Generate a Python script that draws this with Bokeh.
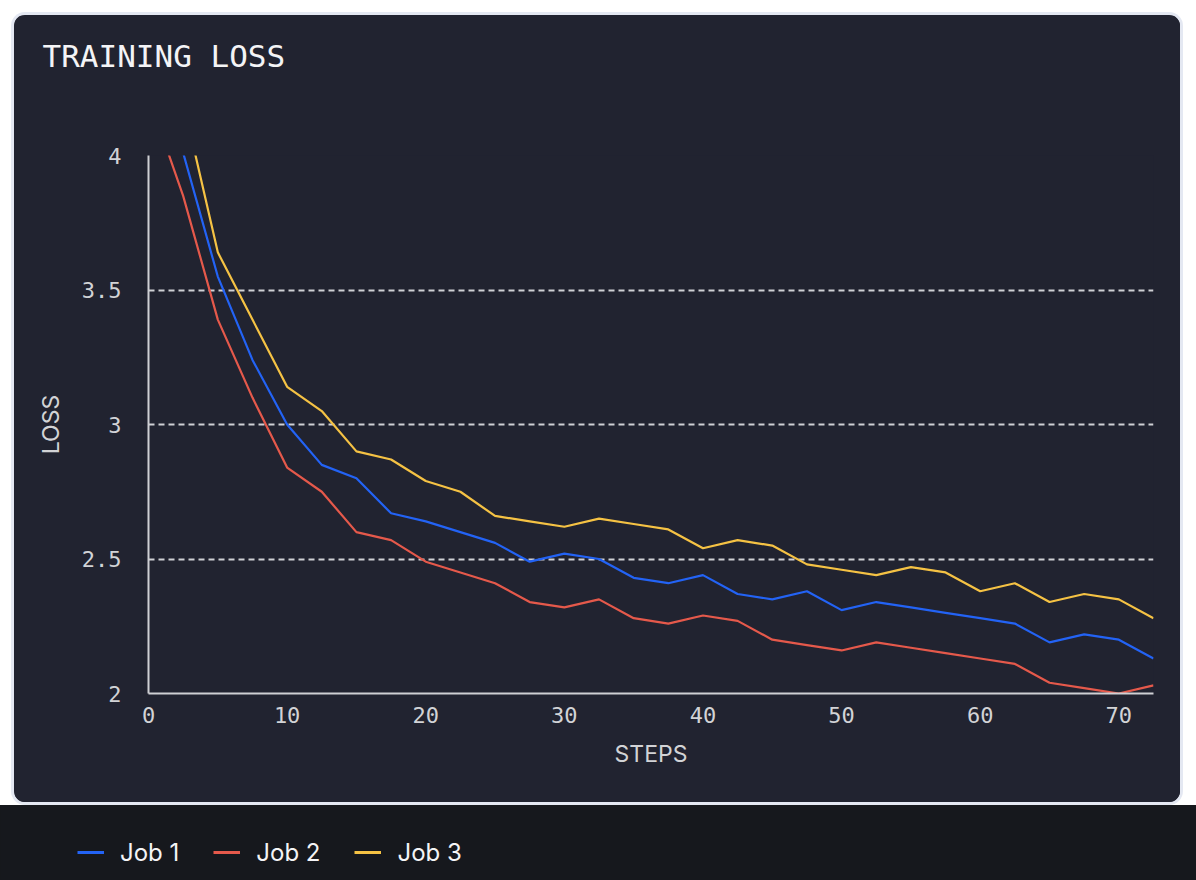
from bokeh.plotting import figure
from bokeh.models import Legend, LegendItem, Range1d, FixedTicker, Title
from bokeh.layouts import column
from bokeh.embed import file_html
from bokeh.resources import INLINE

# ---------------- data ----------------
steps = [0, 2.5, 5, 7.5, 10, 12.5, 15, 17.5, 20, 22.5, 25, 27.5, 30, 32.5, 35,
         37.5, 40, 42.5, 45, 47.5, 50, 52.5, 55, 57.5, 60, 62.5, 65, 67.5, 70, 72.5]
job1 = [4.60, 4.01, 3.55, 3.24, 3.00, 2.85, 2.80, 2.67, 2.64, 2.60, 2.56, 2.49, 2.52, 2.50, 2.43,
        2.41, 2.44, 2.37, 2.35, 2.38, 2.31, 2.34, 2.32, 2.30, 2.28, 2.26, 2.19, 2.22, 2.20, 2.13]
job2 = [4.22, 3.85, 3.39, 3.10, 2.84, 2.75, 2.60, 2.57, 2.49, 2.45, 2.41, 2.34, 2.32, 2.35, 2.28,
        2.26, 2.29, 2.27, 2.20, 2.18, 2.16, 2.19, 2.17, 2.15, 2.13, 2.11, 2.04, 2.02, 2.00, 2.03]
job3 = [4.75, 4.20, 3.64, 3.39, 3.14, 3.05, 2.90, 2.87, 2.79, 2.75, 2.66, 2.64, 2.62, 2.65, 2.63,
        2.61, 2.54, 2.57, 2.55, 2.48, 2.46, 2.44, 2.47, 2.45, 2.38, 2.41, 2.34, 2.37, 2.35, 2.28]
series = [job1, job2, job3]
series_names = ["Job 1", "Job 2", "Job 3"]
x_ticks = [0, 10, 20, 30, 40, 50, 60, 70]
y_ticks = [2, 2.5, 3, 3.5, 4]
y_tick_labels = ["2", "2.5", "3", "3.5", "4"]

# ---------------- style ----------------
OUTER_BG = "#16181d"
CARD_BG = "#212330"
CARD_BORDER = "#e4e8f2"
TEXT = "#f4f4f6"
MUTED = "#d2d3d6"
GRID = "#cfd0d4"
COLORS = ["#2363f5", "#e5594b", "#f5c244"]
MONO = "DejaVu Sans Mono"
SANS = "Inter"

# ---------------- card figure ----------------
p = figure(width=1170, height=791, output_backend="svg", toolbar_location=None,
           x_range=Range1d(0, 72.5), y_range=Range1d(2, 4),
           min_border_left=134, min_border_right=31, min_border_top=140,
           min_border_bottom=113)
p.border_fill_color = CARD_BG
p.background_fill_color = CARD_BG
p.outline_line_color = None
p.margin = (13, 0, 1, 12)
p.styles = {"border-radius": "13px", "border": "2px solid %s" % CARD_BORDER,
            "box-sizing": "border-box", "overflow": "hidden",
            "box-shadow": "0 0 0 1px %s" % CARD_BORDER,
            "background-color": CARD_BG}

# spacer (nearest the frame) then the real title above it
spacer = Title(text=" ", text_font=MONO, text_font_size="20px", standoff=36,
               text_color=CARD_BG)
p.add_layout(spacer, "above")
t = Title(text="TRAINING LOSS", align="left", text_font=MONO, text_font_size="31px",
          text_font_style="normal", text_color=TEXT, offset=-106, standoff=40)
p.add_layout(t, "above")

# lines
for ys, c in zip(series, COLORS):
    p.line(steps, ys, line_color=c, line_width=2.2)

# axes
p.xaxis.ticker = FixedTicker(ticks=x_ticks)
p.yaxis.ticker = FixedTicker(ticks=y_ticks)
p.yaxis.major_label_overrides = {v: s for v, s in zip(y_ticks, y_tick_labels)}
for ax in (p.xaxis[0], p.yaxis[0]):
    ax.axis_line_color = GRID
    ax.axis_line_width = 2
    ax.major_tick_line_color = None
    ax.minor_tick_line_color = None
    ax.major_tick_out = 0
    ax.major_tick_in = 0
    ax.major_label_text_font = MONO
    ax.major_label_text_font_size = "22px"
    ax.major_label_text_color = MUTED
    ax.axis_label_text_font = SANS
    ax.axis_label_text_font_size = "23px"
    ax.axis_label_text_font_style = "normal"
    ax.axis_label_text_color = MUTED
p.xaxis.axis_label = "STEPS"
p.yaxis.axis_label = "LOSS"
p.xaxis.major_label_standoff = 13
p.yaxis.major_label_standoff = 27
p.xaxis.axis_label_standoff = 14
p.yaxis.axis_label_standoff = 14

# grid
p.xgrid.visible = False
p.ygrid.ticker = FixedTicker(ticks=y_ticks)
p.ygrid.grid_line_color = GRID
p.ygrid.grid_line_width = 2
p.ygrid.grid_line_dash = "6 4"

# ---------------- legend figure ----------------
leg = figure(width=1196, height=75, output_backend="svg", toolbar_location=None,
             x_range=Range1d(-20, -19), y_range=Range1d(0, 1),
             x_axis_location=None, y_axis_location=None,
             min_border=0, min_border_left=0, min_border_right=0,
             min_border_top=0, min_border_bottom=0)
leg.border_fill_color = OUTER_BG
leg.background_fill_color = OUTER_BG
leg.outline_line_color = None
leg.xgrid.visible = False
leg.ygrid.visible = False
leg.styles = {"background-color": OUTER_BG}
for fig in (p, leg):
    try:
        fig.frame_align = False
    except Exception:
        pass
# legend swatches: same series, drawn off-view in this strip
proxies = [leg.line(steps, ys, line_color=c, line_width=3) for ys, c in zip(series, COLORS)]
items = [LegendItem(label=n, renderers=[r]) for n, r in zip(series_names, proxies)]
legend = Legend(items=items, orientation="horizontal", location=(77, 13),
                padding=0, margin=0, spacing=34, label_standoff=16,
                glyph_width=27, glyph_height=30, label_height=30,
                label_text_font=SANS, label_text_font_size="24px",
                label_text_color=TEXT, background_fill_alpha=0,
                border_line_color=None)
leg.add_layout(legend)

layout = column(p, leg, spacing=0)

html = file_html(layout, INLINE)
html = html.replace("<body>", '<body style="background-color:%s;">' % OUTER_BG, 1)
open("out.html", "w").write(html)
